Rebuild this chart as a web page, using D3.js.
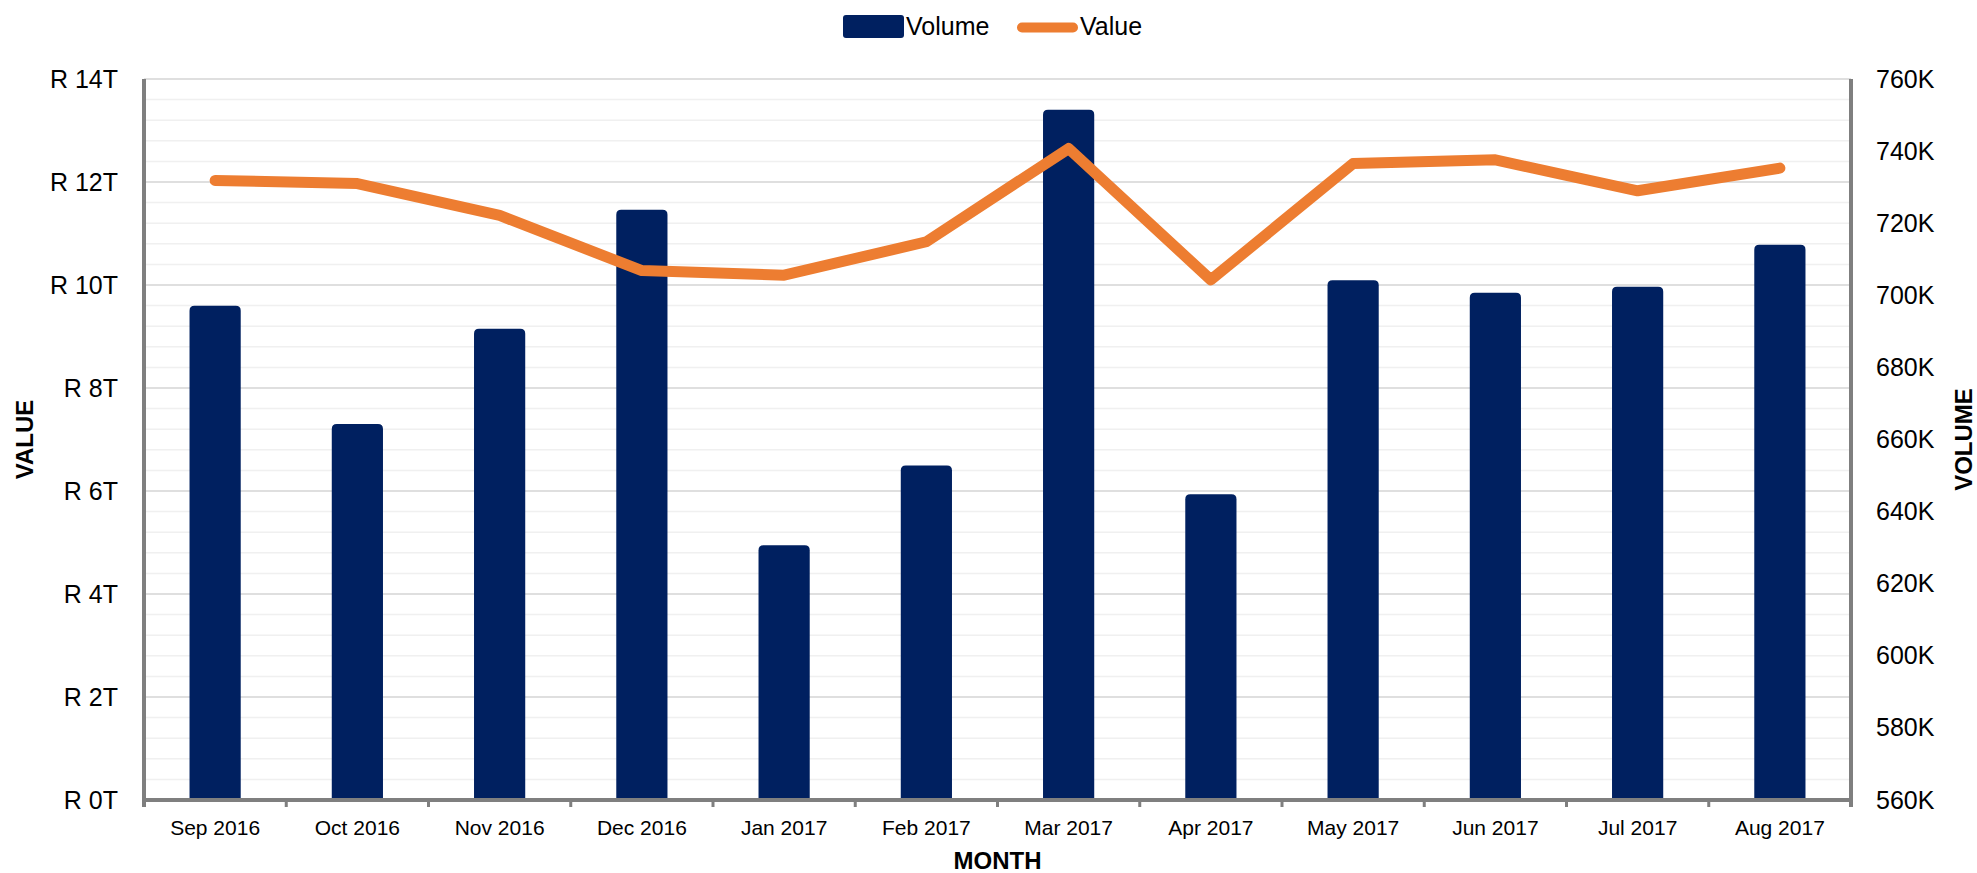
<!DOCTYPE html>
<head>
  <meta charset="utf-8">
  <script src="https://d3js.org/d3.v7.min.js"></script>
  <style>
    body { margin: 0; background: #fff; }
    svg text { font-family: "Liberation Sans", Arial, sans-serif; fill: #000; }
    .axis-title { font-weight: bold; font-size: 24px; }
  </style>
</head>
<body>
<div id="chart"></div>
<script>

// months on the x axis
var months = ["Sep 2016", "Oct 2016", "Nov 2016", "Dec 2016", "Jan 2017", "Feb 2017",
              "Mar 2017", "Apr 2017", "May 2017", "Jun 2017", "Jul 2017", "Aug 2017"];

// bars: transaction volume (thousands), right axis
var volume = [697.1, 664.3, 690.7, 723.7, 630.7, 652.8, 751.5, 644.8, 704.2, 700.7, 702.4, 714.0];

// line: transaction value (trillions of rand), left axis
var value = [12.03, 11.97, 11.35, 10.28, 10.19, 10.84, 12.65, 10.10, 12.36, 12.43, 11.83, 12.27];

var valueTicks = [0, 2, 4, 6, 8, 10, 12, 14];
var volumeTicks = [560, 580, 600, 620, 640, 660, 680, 700, 720, 740, 760];

var W = 1977, H = 873;
var margin = {top: 79, right: 126, bottom: 73, left: 144};
var innerW = W - margin.left - margin.right,
    innerH = H - margin.top - margin.bottom;

var svg = d3.select("#chart").append("svg")
    .attr("width", W)
    .attr("height", H);

var g = svg.append("g")
    .attr("transform", `translate(${margin.left},${margin.top})`);

var x = d3.scaleBand()
    .domain(months)
    .range([0, innerW])
    .paddingInner(0.64)
    .paddingOuter(0.32);

var yVal = d3.scaleLinear().domain([0, 14]).range([innerH, 0]);
var yVol = d3.scaleLinear().domain([560, 760]).range([innerH, 0]);

// grid: minor every 0.4T, major every 2T
var minor = d3.range(0, 14.001, 0.4);
g.append("g").selectAll("line")
  .data(minor)
  .join("line")
    .attr("x1", 0).attr("x2", innerW)
    .attr("y1", d => yVal(d)).attr("y2", d => yVal(d))
    .attr("stroke", "#f0f0f0")
    .attr("stroke-width", 1.5);

g.append("g").selectAll("line")
  .data(valueTicks)
  .join("line")
    .attr("x1", 0).attr("x2", innerW)
    .attr("y1", d => yVal(d)).attr("y2", d => yVal(d))
    .attr("stroke", "#d9d9d9")
    .attr("stroke-width", 1.5);

// bars with rounded tops
var r = 5;
g.append("g").selectAll("path")
  .data(months)
  .join("path")
    .attr("fill", "#002060")
    .attr("d", function(m, i) {
      var x0 = x(m), w = x.bandwidth(), y0 = yVol(volume[i]), yb = innerH;
      return `M${x0},${yb} L${x0},${y0 + r} Q${x0},${y0} ${x0 + r},${y0}` +
             ` L${x0 + w - r},${y0} Q${x0 + w},${y0} ${x0 + w},${y0 + r} L${x0 + w},${yb} Z`;
    });

// value line
g.append("path")
  .datum(months)
  .attr("fill", "none")
  .attr("stroke", "#ED7D31")
  .attr("stroke-width", 11)
  .attr("stroke-linejoin", "round")
  .attr("stroke-linecap", "round")
  .attr("d", d3.line()
    .x(m => x(m) + x.bandwidth() / 2)
    .y((m, i) => yVal(value[i])));

// axes lines
var axisColor = "#7f7f7f";
g.append("line")
  .attr("x1", 0).attr("x2", 0).attr("y1", 0).attr("y2", innerH + 7)
  .attr("stroke", axisColor).attr("stroke-width", 4);
g.append("line")
  .attr("x1", innerW).attr("x2", innerW).attr("y1", 0).attr("y2", innerH + 7)
  .attr("stroke", axisColor).attr("stroke-width", 4);
g.append("line")
  .attr("x1", -2).attr("x2", innerW + 2).attr("y1", innerH).attr("y2", innerH)
  .attr("stroke", axisColor).attr("stroke-width", 4);

// category boundary ticks
var half = (x.step() - x.bandwidth()) / 2;
var bounds = months.map(m => x(m) - half).concat([innerW]);
g.append("g").selectAll("line")
  .data(bounds)
  .join("line")
    .attr("x1", d => d).attr("x2", d => d)
    .attr("y1", innerH).attr("y2", innerH + 7)
    .attr("stroke", axisColor).attr("stroke-width", 3);

// x labels
g.append("g")
    .attr("transform", `translate(0,${innerH})`)
    .call(d3.axisBottom(x).tickSize(0).tickPadding(20))
    .call(a => a.select(".domain").remove())
    .selectAll("text")
      .style("font-size", "21px")
      .style("font-family", "'Liberation Sans', Arial, sans-serif")
      .attr("fill", "#000");

// left axis labels
g.append("g")
    .call(d3.axisLeft(yVal).tickValues(valueTicks).tickSize(0).tickPadding(26)
      .tickFormat(d => "R " + d + "T"))
    .call(a => a.select(".domain").remove())
    .selectAll("text")
      .style("font-size", "25px")
      .style("font-family", "'Liberation Sans', Arial, sans-serif")
      .attr("fill", "#000");

// right axis labels
g.append("g")
    .attr("transform", `translate(${innerW},0)`)
    .call(d3.axisRight(yVol).tickValues(volumeTicks).tickSize(0).tickPadding(25)
      .tickFormat(d => d + "K"))
    .call(a => a.select(".domain").remove())
    .selectAll("text")
      .style("font-size", "25px")
      .style("font-family", "'Liberation Sans', Arial, sans-serif")
      .attr("fill", "#000");

// axis titles
svg.append("text")
  .attr("class", "axis-title")
  .attr("transform", `translate(33,${margin.top + innerH / 2}) rotate(-90)`)
  .attr("text-anchor", "middle")
  .text("VALUE");

svg.append("text")
  .attr("class", "axis-title")
  .attr("transform", `translate(1972,${margin.top + innerH / 2}) rotate(-90)`)
  .attr("text-anchor", "middle")
  .text("VOLUME");

svg.append("text")
  .attr("class", "axis-title")
  .attr("x", margin.left + innerW / 2)
  .attr("y", 869)
  .attr("text-anchor", "middle")
  .text("MONTH");

// legend
var legend = svg.append("g");
legend.append("rect")
  .attr("x", 843).attr("y", 15).attr("width", 61).attr("height", 23)
  .attr("rx", 3).attr("fill", "#002060");
legend.append("text")
  .attr("x", 906).attr("y", 35)
  .style("font-size", "25px")
  .text("Volume");
legend.append("line")
  .attr("x1", 1022).attr("x2", 1073).attr("y1", 27.5).attr("y2", 27.5)
  .attr("stroke", "#ED7D31").attr("stroke-width", 10).attr("stroke-linecap", "round");
legend.append("text")
  .attr("x", 1080).attr("y", 35)
  .style("font-size", "25px")
  .text("Value");

</script>
</body>
